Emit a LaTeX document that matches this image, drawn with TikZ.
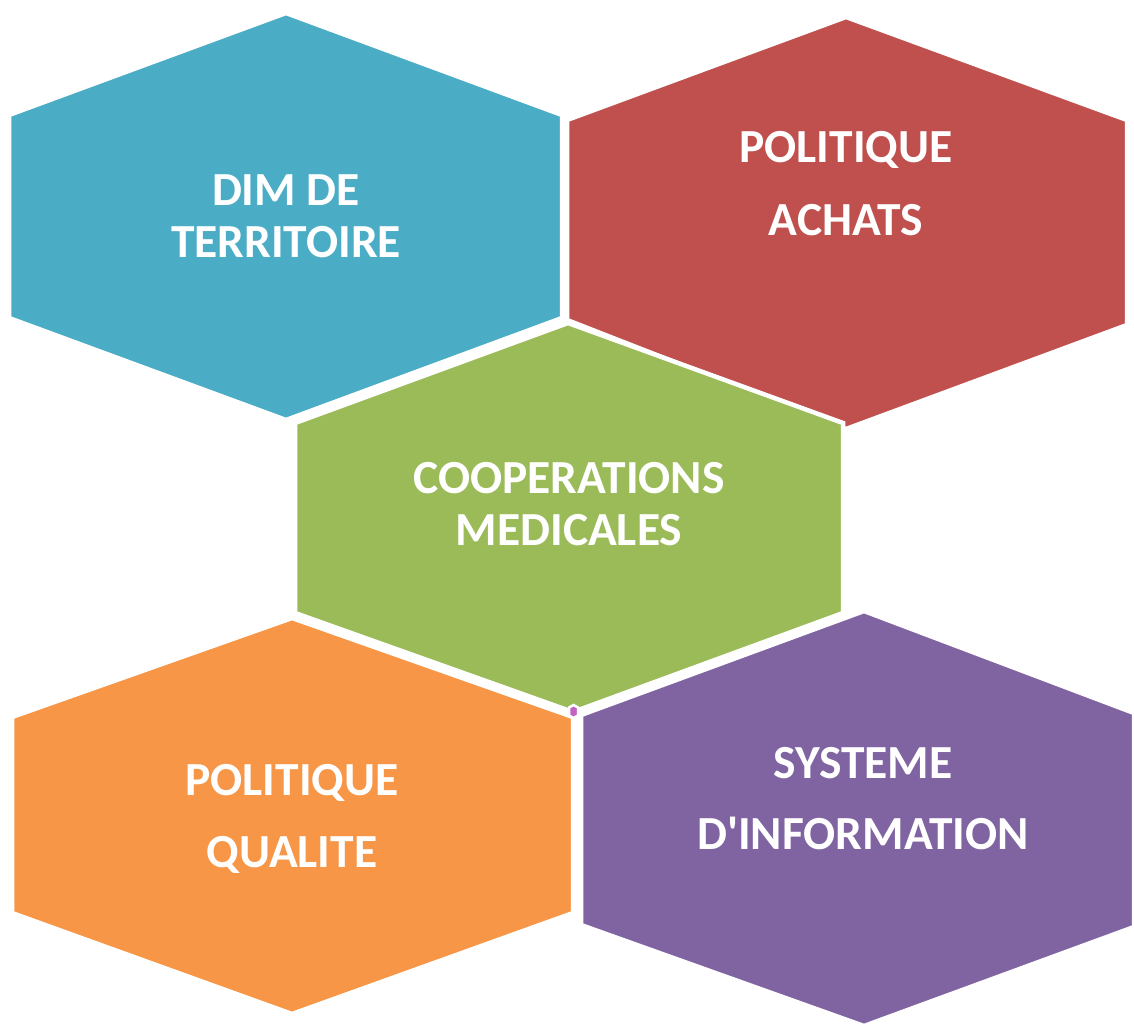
\documentclass[tikz,border=0pt]{standalone}
\usepackage{fontspec}
\setmainfont{Carlito}
\definecolor{hexblue}{HTML}{4BACC6}
\definecolor{hexred}{HTML}{C0504D}
\definecolor{hexgreen}{HTML}{9BBB59}
\definecolor{hexorange}{HTML}{F79646}
\definecolor{hexpurple}{HTML}{8064A2}
\definecolor{hexpink}{HTML}{C462C4}
\begin{document}
\begin{tikzpicture}[x=1pt,y=-1pt,
  hexcell/.style={draw=white,line width=4.5pt,line join=miter},
  hexlabel/.style={text=white,align=center,font=\fontsize{47.5}{52}\selectfont\bfseries,inner sep=0pt}]
\useasboundingbox (0,0) rectangle (1134,1026);
% blue cell
\fill[hexblue] (286,13) -- (562,115) -- (562,318) -- (286,420) -- (9,318) -- (9,115) -- cycle;
\draw[hexcell] (286,13) -- (562,115) -- (562,318) -- (286,420) -- (9,318) -- (9,115) -- cycle;
% red cell
\fill[hexred] (846,17) -- (1127,120) -- (1127,325) -- (846,429) -- (567,320) -- (567,120) -- cycle;
\draw[hexcell] (846,17) -- (1127,120) -- (1127,325) -- (846,429) -- (567,320) -- (567,120) -- cycle;
% green cell
\fill[hexgreen] (568,323) -- (843,423) -- (843,613) -- (573,712) -- (295,613) -- (295,423) -- cycle;
\draw[hexcell] (568,323) -- (843,423) -- (843,613) -- (573,712) -- (295,613) -- (295,423) -- cycle;
% orange cell
\fill[hexorange] (292,618) -- (573,717) -- (573,913) -- (292,1014) -- (12,913) -- (12,717) -- cycle;
\draw[hexcell] (292,618) -- (573,717) -- (573,913) -- (292,1014) -- (12,913) -- (12,717) -- cycle;
% purple cell
\fill[hexpurple] (864,611) -- (1134,713) -- (1134,927) -- (864,1026) -- (581,925) -- (581,715) -- cycle;
\draw[hexcell] (864,611) -- (1134,713) -- (1134,927) -- (864,1026) -- (581,925) -- (581,715) -- cycle;
% small joint cell
\filldraw[fill=hexpink,draw=white,line width=2.5pt]
  (573.5,705) -- (578,707.5) -- (578,715.5) -- (573.5,718) -- (569,715.5) -- (569,707.5) -- cycle;
% labels
\node[hexlabel] (dim) at (286,216) {DIM DE\\TERRITOIRE};
\node[hexlabel] (achats) at (846,184) {POLITIQUE\\[21pt]ACHATS};
\node[hexlabel] (coop) at (569,504) {COOPERATIONS\\MEDICALES};
\node[hexlabel] (qualite) at (292,818.5) {POLITIQUE\\[20pt]QUALITE};
\node[hexlabel] (si) at (863,799) {SYSTEME\\[19pt]D\textquotesingle INFORMATION};
\end{tikzpicture}
\end{document}
